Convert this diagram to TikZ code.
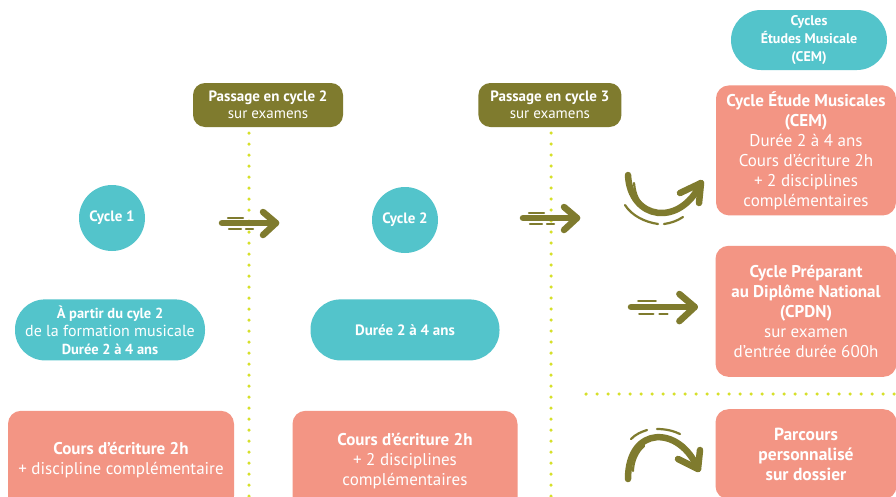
\documentclass[tikz,border=0pt]{standalone}
\usepackage{fontspec}
\setmainfont{PT Sans}
\usetikzlibrary{positioning}

\definecolor{musicteal}{HTML}{53C4CB}
\definecolor{musicsalmon}{HTML}{F39584}
\definecolor{musicolive}{HTML}{7F7B2E}
\definecolor{musicdots}{HTML}{D6E02A}

\tikzstyle{pill} = [
        rectangle,
        rounded corners=30pt,
        fill=musicteal,
        text=white,
        minimum height=61pt,
        align=center,
        inner sep=0pt,
    ]
\tikzstyle{pinkbox} = [
        rectangle,
        rounded corners=13pt,
        fill=musicsalmon,
        text=white,
        align=center,
        inner sep=0pt,
        font=\fontsize{17}{20}\selectfont,
    ]
\tikzstyle{gate} = [
        rectangle,
        rounded corners=12pt,
        fill=musicolive,
        text=white,
        minimum height=44pt,
        align=center,
        inner sep=0pt,
        font=\fontsize{15}{17}\selectfont,
    ]
\tikzstyle{bubble} = [
        circle,
        fill=musicteal,
        text=white,
        minimum size=66pt,
        inner sep=0pt,
        font=\bfseries\fontsize{15}{17}\selectfont,
    ]
\tikzstyle{dots} = [musicdots, line width=3.5pt, line cap=round, dash pattern=on 0pt off 11pt]
\tikzstyle{bold arrow} = [musicolive, line width=6.5pt, line cap=round, line join=round]
\tikzstyle{speed} = [musicolive, line width=2.2pt, line cap=round]

\tikzset{
    fastarrow/.pic={
        \draw [bold arrow] (0,0) -- (54,0);
        \draw [bold arrow] (41,-11) -- (54,0) -- (41,12);
        \draw [speed] (6,-5) -- (21,-5);
        \draw [speed] (7,6) -- (19,6) (24,6) -- (31,6);
    }
}

\begin{document}
\begin{tikzpicture}[x=1pt, y=-1pt]
            \clip (0,0) rectangle (896,496);
            \fill [white] (0,0) rectangle (896,496);
            % separators
            \coordinate (cut2top) at (249,133);
            \coordinate (cut2bot) at (249,500);
            \coordinate (cut3top) at (551,133);
            \coordinate (cut3bot) at (551,500);
            \coordinate (splitleft) at (586,394);
            \coordinate (splitright) at (900,394);
            \draw [dots] (cut2top) -- (cut2bot);
            \draw [dots] (cut3top) -- (cut3bot);
            \draw [dots] (splitleft) -- (splitright);
            % exams
            \node [gate, minimum width=150pt] (pass2) at (268,105) {\textbf{Passage en cycle 2}\\sur examens};
            \node [gate, minimum width=143pt, right=135pt of pass2] (pass3) {\textbf{Passage en cycle 3}\\sur examens};
            % cycle 1
            \node [bubble] (cycle1) at (112,218) {Cycle 1};
            \node [pill, minimum width=190pt, below=48pt of cycle1, xshift=-2pt, font=\fontsize{16}{18}\selectfont] (start1) {{\bfseries\fontsize{14.5}{18}\selectfont À partir du cyle 2}\\de la formation musicale\\{\bfseries\fontsize{14.5}{18}\selectfont Durée 2 à 4 ans}};
            \node [pinkbox, minimum width=226pt, minimum height=98pt, below=50pt of start1, xshift=11pt] (write1) {\textbf{Cours d’écriture 2h}\\+ discipline complémentaire};
            % cycle 2
            \node [bubble] (cycle2) at (405,220) {Cycle 2};
            \node [pill, minimum width=189pt, below=46pt of cycle2, font=\bfseries\fontsize{15}{18}\selectfont] (length2) {Durée 2 à 4 ans};
            \node [pinkbox, minimum width=225pt, minimum height=100pt, below=50pt of length2] (write2) {\textbf{Cours d’écriture 2h}\\+ 2 disciplines\\complémentaires};
            % cycle 3
            \node [pill, minimum width=156pt, minimum height=60pt, font=\bfseries\fontsize{14}{18}\selectfont] (cemtitle) at (809,40) {Cycles\\Études Musicale\\(CEM)};
            \node [pinkbox, minimum width=180pt, minimum height=130pt, below=15pt of cemtitle, xshift=-3pt] (cem) {\textbf{Cycle Étude Musicales}\\\textbf{(CEM)}\\Durée 2 à 4 ans\\Cours d’écriture 2h\\+ 2 disciplines\\complémentaires};
            \node [pinkbox, minimum width=181pt, minimum height=131pt, below=30pt of cem] (cpdn) {\textbf{Cycle Préparant}\\\textbf{au Diplôme National}\\\textbf{(CPDN)}\\sur examen\\d’entrée durée 600h};
            \node [pinkbox, minimum width=181pt, minimum height=90pt, below=32pt of cpdn, font=\bfseries\fontsize{17.5}{20}\selectfont] (parcours) {Parcours\\personnalisé\\sur dossier};
            % straight arrows
            \coordinate (go2) at (222,223);
            \coordinate (go3) at (523,218);
            \coordinate (gocpdn) at (631,307);
            \pic at (go2) {fastarrow};
            \pic at (go3) {fastarrow};
            \pic [scale=1.18] at (gocpdn) {fastarrow};
            % curved arrows
            \draw [bold arrow] (628,175) .. controls (630,220) and (680,228) .. (701,183);
            \draw [bold arrow] (680,193) -- (701,183) -- (699,203);
            \draw [speed] (634,183) .. controls (635,195) and (639,203) .. (646,207);
            \draw [speed] (625,205) .. controls (632,216) and (645,222) .. (658,224);
            \draw [speed] (664,224) .. controls (671,223) and (677,221) .. (683,217);
            \draw [bold arrow] (628,479) .. controls (628,425) and (680,425) .. (698,469);
            \draw [bold arrow] (678,459) -- (698,469) -- (700,450);
            \draw [speed] (644,446) .. controls (637,452) and (633,462) .. (633,471);
            \draw [speed] (631,439) .. controls (636,434) and (641,432) .. (647,430);
            \draw [speed] (657,429) .. controls (666,429) and (674,431) .. (680,434);
        \end{tikzpicture}
\end{document}
